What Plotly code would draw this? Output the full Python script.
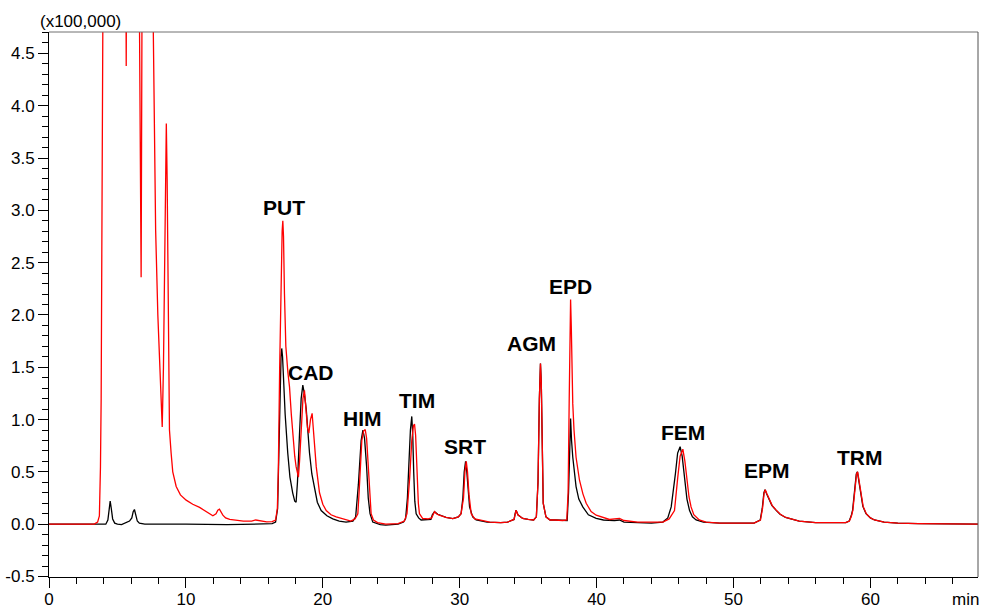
import plotly.graph_objects as go

# ---------------- data ----------------
# time in min, signal in units of 100,000
black_time = [
    0.0, 3.5, 4.15, 4.3, 4.4, 4.47, 4.55, 4.65, 4.8, 5.0, 5.3, 5.6, 5.88, 6.05, 6.15, 6.24, 6.33, 6.45, 6.6, 7.0,
    10.0, 13.0, 16.3,
    16.55, 16.7, 16.8, 16.88, 16.95, 17.0, 17.06, 17.15, 17.25, 17.44, 17.6, 17.8, 17.95, 18.05,
    18.15, 18.3, 18.42, 18.54, 18.65, 18.79, 18.9, 19.03, 19.2, 19.4, 19.6, 19.88, 20.3, 20.73, 21.2, 21.7,
    22.2, 22.4, 22.5, 22.6, 22.68, 22.8, 22.93, 23.05, 23.2, 23.32, 23.45, 23.65, 24.2, 24.6, 25.5,
    25.9, 26.05, 26.18, 26.28, 26.4, 26.5, 26.57, 26.64, 26.72, 26.82, 27.0, 27.18, 27.6, 27.9,
    28.0, 28.16, 28.4, 29.0, 29.5, 29.9,
    30.1, 30.23, 30.33, 30.43, 30.52, 30.62, 30.72, 30.95, 31.2, 32.0, 33.0,
    33.5, 33.97, 34.05, 34.12, 34.25, 34.6, 35.0, 35.4,
    35.6, 35.72, 35.82, 35.9, 35.96, 36.02, 36.1, 36.3, 36.6, 37.0, 37.5,
    37.85, 37.95, 38.03, 38.1, 38.17, 38.26, 38.5, 38.7, 38.99, 39.4, 39.97, 40.5, 41.3, 41.67, 42.0, 44.0,
    44.84, 45.2, 45.45, 45.6, 45.76, 45.92, 46.1, 46.25, 46.42, 46.6, 46.79, 47.0, 47.27, 47.8, 49.0,
    51.5, 51.95, 52.1, 52.22, 52.3, 52.42, 52.6, 52.8, 53.1, 53.4, 53.8, 54.3, 54.8, 56.0, 58.0,
    58.2, 58.45, 58.6, 58.7, 58.85, 58.97, 59.05, 59.15, 59.3, 59.45, 59.68, 60.0, 60.3, 61.0, 62.0, 63.5, 67.86,
]
black_signal = [
    0.0, 0.0, 0.0, 0.04, 0.15, 0.22, 0.15, 0.05, 0.01, 0.0, -0.005, 0.01, 0.03, 0.06, 0.12, 0.14, 0.09, 0.03, 0.01, 0.0,
    0.0, -0.005, 0.005,
    0.02, 0.15, 0.6, 1.2, 1.6, 1.68, 1.6, 1.3, 1.05, 0.68, 0.45, 0.3, 0.22, 0.21,
    0.4, 0.87, 1.2, 1.33, 1.25, 1.1, 0.9, 0.68, 0.48, 0.33, 0.21, 0.13, 0.08, 0.05, 0.03, 0.02,
    0.03, 0.07, 0.2, 0.38, 0.55, 0.8, 0.90, 0.82, 0.55, 0.25, 0.10, 0.02, -0.005, -0.01, 0.0,
    0.02, 0.054, 0.25, 0.55, 0.9, 1.03, 0.85, 0.5, 0.22, 0.10, 0.06, 0.04, 0.04, 0.045,
    0.09, 0.12, 0.095, 0.065, 0.054, 0.07,
    0.1, 0.25, 0.5, 0.60, 0.5, 0.3, 0.165, 0.07, 0.04, 0.02, 0.015,
    0.02, 0.045, 0.1, 0.134, 0.09, 0.055, 0.045, 0.04,
    0.07, 0.4, 1.2, 1.536, 1.35, 0.6, 0.2, 0.07, 0.04, 0.04, 0.035,
    0.035, 0.3, 0.8, 1.01, 0.8, 0.64, 0.36, 0.24, 0.165, 0.09, 0.055, 0.04, 0.035, 0.04, 0.02, 0.01,
    0.02, 0.06, 0.165, 0.3, 0.485, 0.68, 0.74, 0.65, 0.42, 0.24, 0.13, 0.07, 0.04, 0.02, 0.01,
    0.01, 0.04, 0.15, 0.3, 0.33, 0.29, 0.23, 0.18, 0.134, 0.095, 0.064, 0.045, 0.03, 0.015, 0.01,
    0.015, 0.03, 0.08, 0.134, 0.35, 0.48, 0.50, 0.42, 0.26, 0.17, 0.10, 0.06, 0.04, 0.02, 0.01, 0.005, 0.0,
]

red_time = [
    0.0, 3.3, 3.55, 3.68, 3.76, 3.81, 3.93, 3.96, 5.6, 5.64, 5.68, 6.55, 6.73, 6.82, 7.55, 7.62,
    7.79, 7.95, 8.07, 8.18, 8.27, 8.36, 8.44, 8.52, 8.57, 8.63, 8.68, 8.75, 8.8, 8.92, 9.04, 9.29, 9.6,
    10.02, 10.5, 11.0, 11.5, 11.97, 12.2, 12.33, 12.45, 12.58, 12.7, 12.9, 13.2, 14.2, 14.8, 15.1, 15.3, 15.9, 16.3,
    16.55, 16.68, 16.75, 16.85, 16.95, 17.03, 17.08, 17.13, 17.2, 17.3, 17.45, 17.57, 17.7, 17.8, 17.95, 18.05,
    18.15, 18.22, 18.3, 18.42, 18.55, 18.66, 18.75, 18.88, 18.98, 19.1, 19.22, 19.32, 19.52, 19.76, 20.0,
    20.25, 20.6, 20.98, 21.5, 22.05,
    22.35, 22.56, 22.65, 22.73, 22.85, 22.98, 23.1, 23.2, 23.34, 23.45, 23.53, 23.7, 24.0, 24.6, 25.5,
    25.96, 26.15, 26.35, 26.5, 26.62, 26.7, 26.78, 26.88, 26.98, 27.06, 27.3, 27.7, 27.95,
    28.16, 28.3, 28.5, 29.0, 29.5, 29.9,
    30.1, 30.28, 30.38, 30.48, 30.57, 30.68, 30.84, 31.1, 31.45, 32.2, 33.0,
    33.5, 33.97, 34.05, 34.12, 34.25, 34.6, 35.0, 35.4,
    35.6, 35.72, 35.82, 35.9, 35.96, 36.02, 36.1, 36.3, 36.6, 37.0, 37.5,
    37.82, 37.92, 38.0, 38.06, 38.1, 38.15, 38.2, 38.26, 38.35, 38.5, 38.75, 39.0, 39.24, 39.6, 39.97,
    40.5, 40.94, 41.3, 41.67, 42.0, 43.0,
    44.84, 45.3, 45.69, 45.8, 45.93, 46.1, 46.3, 46.45, 46.59, 46.75, 46.9, 47.1, 47.5, 48.0, 49.0,
    51.5, 51.97, 52.12, 52.24, 52.32, 52.44, 52.62, 52.82, 53.12, 53.42, 53.82, 54.3, 54.8, 56.0, 58.0,
    58.2, 58.47, 58.62, 58.72, 58.87, 58.99, 59.07, 59.17, 59.32, 59.47, 59.7, 60.0, 60.3, 61.0, 62.0, 63.5, 67.86,
]
red_signal = [
    0.0, 0.0, 0.02, 0.08, 0.55, 1.2, 4.7, 6.0, 6.0, 4.38, 6.0, 6.0, 2.36, 6.0, 6.0, 4.7,
    2.81, 2.0, 1.54, 1.1, 0.93, 1.5, 2.49, 3.5, 3.83, 3.3, 2.49, 1.5, 0.9, 0.68, 0.5, 0.36, 0.28,
    0.23, 0.19, 0.16, 0.12, 0.08, 0.1, 0.134, 0.143, 0.11, 0.086, 0.06, 0.045, 0.029, 0.03, 0.04, 0.035, 0.022, 0.025,
    0.04, 0.15, 0.5, 1.5, 2.3, 2.8, 2.9, 2.75, 2.2, 1.7, 1.45, 1.31, 1.05, 0.87, 0.65, 0.55,
    0.47, 0.45, 0.6, 0.9, 1.2, 1.28, 1.15, 0.92, 0.87, 1.0, 1.06, 0.9, 0.55, 0.3, 0.19,
    0.13, 0.09, 0.07, 0.05, 0.03,
    0.05, 0.10, 0.3, 0.55, 0.8, 0.89, 0.905, 0.82, 0.55, 0.25, 0.10, 0.04, 0.015, 0.0, 0.005,
    0.03, 0.1, 0.45, 0.8, 0.94, 0.956, 0.85, 0.5, 0.2, 0.10, 0.054, 0.05, 0.06,
    0.12, 0.1, 0.086, 0.065, 0.054, 0.07,
    0.1, 0.25, 0.5, 0.60, 0.5, 0.28, 0.10, 0.05, 0.04, 0.02, 0.015,
    0.02, 0.045, 0.1, 0.134, 0.09, 0.055, 0.045, 0.04,
    0.07, 0.4, 1.2, 1.536, 1.35, 0.6, 0.2, 0.07, 0.04, 0.04, 0.035,
    0.04, 0.3, 1.2, 1.9, 2.148, 1.9, 1.45, 1.15, 0.9, 0.64, 0.42, 0.29, 0.2, 0.12, 0.086,
    0.06, 0.045, 0.05, 0.055, 0.035, 0.02,
    0.02, 0.05, 0.13, 0.25, 0.45, 0.65, 0.717, 0.6, 0.42, 0.26, 0.165, 0.09, 0.04, 0.02, 0.01,
    0.01, 0.04, 0.15, 0.3, 0.33, 0.29, 0.23, 0.18, 0.134, 0.095, 0.064, 0.045, 0.03, 0.015, 0.01,
    0.015, 0.03, 0.08, 0.134, 0.35, 0.48, 0.50, 0.42, 0.26, 0.17, 0.10, 0.06, 0.04, 0.02, 0.01, 0.005, 0.0,
]

peak_names = ["PUT", "CAD", "HIM", "TIM", "SRT", "AGM", "EPD", "FEM", "EPM", "TRM"]
label_time = [17.14, 19.12, 22.87, 26.87, 30.42, 35.25, 38.09, 46.33, 52.44, 59.21]
label_signal = [3.03, 1.45, 1.01, 1.18, 0.74, 1.73, 2.27, 0.88, 0.51, 0.64]

x_tick_values = [0, 10, 20, 30, 40, 50, 60]
x_tick_labels = ["0", "10", "20", "30", "40", "50", "60"]
y_tick_values = [-0.5, 0.0, 0.5, 1.0, 1.5, 2.0, 2.5, 3.0, 3.5, 4.0, 4.5]
y_tick_labels = ["-0.5", "0.0", "0.5", "1.0", "1.5", "2.0", "2.5", "3.0", "3.5", "4.0", "4.5"]

# ---------------- figure ----------------
FONT = "Arial, Liberation Sans, sans-serif"

fig = go.Figure()
fig.add_trace(go.Scatter(x=black_time, y=black_signal, mode="lines",
                         line=dict(color="#000000", width=1.3), showlegend=False))
fig.add_trace(go.Scatter(x=red_time, y=red_signal, mode="lines",
                         line=dict(color="#ff0000", width=1.3), showlegend=False))

for name, t, s in zip(peak_names, label_time, label_signal):
    fig.add_annotation(x=t, y=s, text="<b>" + name + "</b>", showarrow=False,
                       xanchor="center", yanchor="middle",
                       font=dict(family=FONT, size=21, color="#000000"))

fig.add_annotation(xref="paper", yref="paper", x=0.0342, y=1.019, text="(x100,000)",
                   showarrow=False, xanchor="center", yanchor="middle",
                   font=dict(family=FONT, size=17, color="#000000"))
fig.add_annotation(xref="paper", yref="paper", x=0.987, y=-0.0404, text="min",
                   showarrow=False, xanchor="center", yanchor="middle",
                   font=dict(family=FONT, size=17, color="#000000"))

# top and right frame lines (gray)
fig.add_shape(type="line", xref="paper", yref="paper", x0=0, x1=1, y0=1, y1=1,
              line=dict(color="#707070", width=1))
fig.add_shape(type="line", xref="paper", yref="paper", x0=1, x1=1, y0=0, y1=1,
              line=dict(color="#505050", width=1))

fig.update_xaxes(range=[0, 67.86], showgrid=False, zeroline=False, automargin=False,
                 showline=True, linecolor="#000000", linewidth=1,
                 tickmode="array", tickvals=x_tick_values, ticktext=x_tick_labels,
                 ticks="outside", ticklen=10, tickcolor="#000000", tickwidth=1,
                 ticklabelstandoff=-3,
                 tickfont=dict(family=FONT, size=17, color="#000000"),
                 minor=dict(ticks="outside", ticklen=6, tickcolor="#000000", tickwidth=1,
                            tickmode="linear", tick0=0, dtick=2, showgrid=False))
fig.update_yaxes(range=[-0.505, 4.705], showgrid=False, zeroline=False, automargin=False,
                 showline=True, linecolor="#000000", linewidth=1,
                 tickmode="array", tickvals=y_tick_values, ticktext=y_tick_labels,
                 ticks="outside", ticklen=10, tickcolor="#000000", tickwidth=1,
                 tickfont=dict(family=FONT, size=17, color="#000000"),
                 minor=dict(ticks="outside", ticklen=6, tickcolor="#000000", tickwidth=1,
                            tickmode="linear", tick0=0, dtick=0.1, showgrid=False))

fig.update_layout(width=983, height=608,
                  margin=dict(l=49, r=5, t=32, b=31, pad=0, autoexpand=False),
                  plot_bgcolor="#ffffff", paper_bgcolor="#ffffff",
                  showlegend=False)

fig.write_html("out.html")
